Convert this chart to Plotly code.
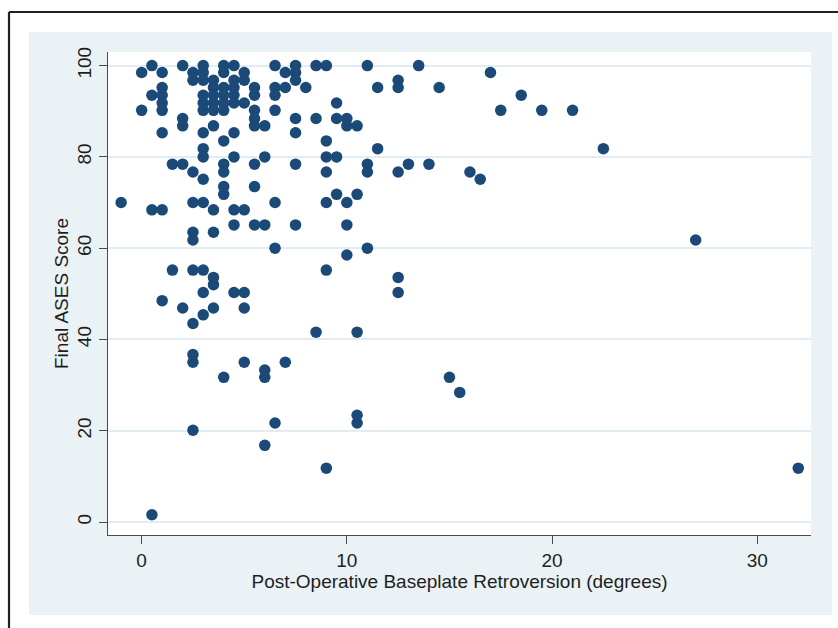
import plotly.graph_objects as go

# Data, grouped by ASES score row
rows = [
    (100.0, [0.5, 2, 3, 4, 4.5, 6.5, 7.5, 8.5, 9, 11, 13.5]),
    (98.5, [0, 1, 2.5, 3, 4, 5, 7, 7.5, 17]),
    (96.8, [2.5, 3, 3.5, 4.5, 5, 7.5, 12.5]),
    (95.2, [1, 3.5, 4, 4.5, 5.5, 6.5, 7, 8, 11.5, 12.5, 14.5]),
    (93.5, [0.5, 1, 3, 3.5, 4, 4.5, 5.5, 6.5, 18.5]),
    (91.8, [1, 3, 3.5, 4, 4.5, 5, 9.5]),
    (90.2, [0, 1, 3, 3.5, 4, 5.5, 6.5, 17.5, 19.5, 21]),
    (88.4, [2, 5.5, 7.5, 8.5, 9.5, 10]),
    (86.8, [2, 3.5, 5.5, 6, 10, 10.5]),
    (85.3, [1, 3, 4.5, 7.5]),
    (83.5, [4, 9]),
    (81.8, [3, 11.5, 22.5]),
    (80.0, [3, 4.5, 6, 9, 9.5]),
    (78.4, [1.5, 2, 4, 5.5, 7.5, 11, 13, 14]),
    (76.7, [2.5, 4, 9, 11, 12.5, 16]),
    (75.1, [3, 16.5]),
    (73.5, [4, 5.5]),
    (71.8, [4, 9.5, 10.5]),
    (70.0, [-1, 2.5, 3, 6.5, 9, 10]),
    (68.4, [0.5, 1, 3.5, 4.5, 5]),
    (65.1, [4.5, 5.5, 6, 7.5, 10]),
    (63.5, [2.5, 3.5]),
    (61.8, [2.5, 27]),
    (60.0, [6.5, 11]),
    (58.5, [10]),
    (55.2, [1.5, 2.5, 3, 9]),
    (53.6, [3.5, 12.5]),
    (52.0, [3.5]),
    (50.3, [3, 4.5, 5, 12.5]),
    (48.5, [1]),
    (46.9, [2, 3.5, 5]),
    (45.4, [3]),
    (43.5, [2.5]),
    (41.6, [8.5, 10.5]),
    (36.7, [2.5]),
    (35.0, [2.5, 5, 7]),
    (33.3, [6]),
    (31.7, [4, 6, 15]),
    (28.4, [15.5]),
    (23.4, [10.5]),
    (21.7, [6.5, 10.5]),
    (20.1, [2.5]),
    (16.8, [6]),
    (11.8, [9, 32]),
    (1.6, [0.5]),
]

retroversion = [x for y, xs in rows for x in xs]
ases_score = [y for y, xs in rows for x in xs]

x_ticks = [0, 10, 20, 30]
y_ticks = [0, 20, 40, 60, 80, 100]
x_title = "Post-Operative Baseplate Retroversion (degrees)"
y_title = "Final ASES Score"

FONT = "Liberation Sans, Arial, Helvetica, sans-serif"
TXT = "#1e1e1e"
BLUEBG = "#eaf2f5"
GRID = "#e2edf1"
AXIS = "#4a4a4a"

fig = go.Figure()
fig.add_trace(go.Scatter(
    x=retroversion, y=ases_score, mode="markers",
    marker=dict(color="#1b4a78", size=11.5, line=dict(width=0)),
    hoverinfo="x+y", showlegend=False,
))

W, H = 838, 628
L, R, T, B = 108, 811, 52, 535
pw, ph = R - L, B - T

def px2x(p):
    return (p - L) / pw

def py2y(p):
    return (B - p) / ph

shapes = [
    dict(type="rect", xref="paper", yref="paper", layer="below",
         x0=px2x(29), x1=px2x(832), y0=py2y(615), y1=py2y(32),
         fillcolor=BLUEBG, line=dict(width=0)),
    dict(type="rect", xref="paper", yref="paper", layer="below",
         x0=0, x1=1, y0=0, y1=1, fillcolor="white", line=dict(width=0)),
    dict(type="line", xref="paper", yref="paper",
         x0=px2x(9), x1=px2x(9), y0=py2y(640), y1=py2y(12),
         line=dict(color="#222", width=2.2)),
    dict(type="line", xref="paper", yref="paper",
         x0=px2x(9), x1=px2x(850), y0=py2y(12), y1=py2y(12),
         line=dict(color="#222", width=2.2)),
]

fig.update_layout(
    width=W, height=H,
    margin=dict(l=L, r=W - R, t=T, b=H - B, pad=0),
    paper_bgcolor="white", plot_bgcolor="rgba(0,0,0,0)",
    font=dict(family=FONT, size=19, color=TXT),
    shapes=shapes,
    xaxis=dict(
        range=[-1.64, 32.62], tickvals=x_ticks, ticktext=[str(v) for v in x_ticks],
        showgrid=False, zeroline=False, showline=True, linecolor=AXIS, linewidth=1.3,
        ticks="outside", ticklen=8, tickwidth=1.3, tickcolor=AXIS,
        tickfont=dict(size=19, color=TXT),
        title=dict(text=x_title, font=dict(size=19, color=TXT), standoff=0),
        fixedrange=True,
    ),
    yaxis=dict(
        range=[-2.84, 102.98], tickvals=y_ticks, ticktext=[str(v) for v in y_ticks],
        showgrid=True, gridcolor=GRID, gridwidth=1.5, zeroline=False,
        showline=True, linecolor=AXIS, linewidth=1.3,
        ticks="outside", ticklen=8, tickwidth=1.3, tickcolor=AXIS,
        tickangle=-90, tickfont=dict(size=19, color=TXT),
        title=dict(text=y_title, font=dict(size=19, color=TXT), standoff=0),
        fixedrange=True,
    ),
)

fig.write_html(
    "out.html",
    config={"displayModeBar": False},
    post_script="document.body.style.margin='0';document.body.style.padding='0';",
)
